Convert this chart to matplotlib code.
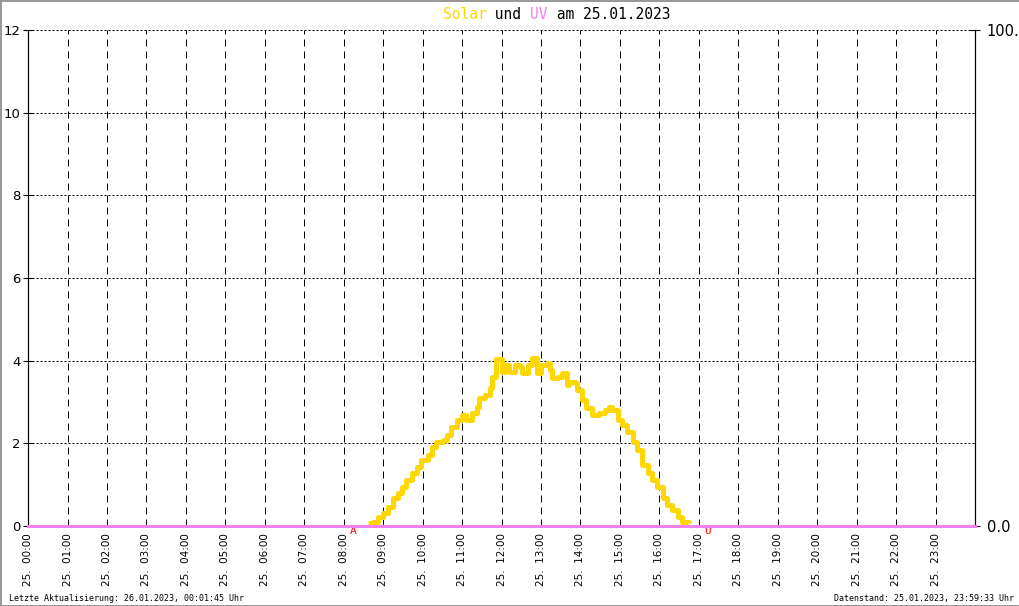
import numpy as np
import matplotlib.pyplot as plt

# solar values (decimal hours, value on the left axis)
solar_hours = [0.0, 8.61, 8.73, 8.86, 8.99, 9.11, 9.24, 9.37, 9.49, 9.59, 9.72,
               9.85, 9.97, 10.13, 10.25, 10.35, 10.51, 10.61, 10.73, 10.86, 10.99,
               11.11, 11.24, 11.37, 11.44, 11.57, 11.70, 11.77, 11.87, 12.00, 12.08,
               12.20, 12.33, 12.46, 12.53, 12.66, 12.78, 12.89, 13.01, 13.14, 13.22,
               13.29, 13.42, 13.52, 13.65, 13.72, 13.85, 13.92, 14.05, 14.15, 14.30,
               14.48, 14.61, 14.73, 14.81, 14.94, 15.06, 15.19, 15.32, 15.44, 15.57,
               15.70, 15.82, 15.95, 16.08, 16.20, 16.33, 16.46, 16.58, 16.76, 24.0]
solar_values = [0.0, 0.07, 0.10, 0.22, 0.31, 0.46, 0.68, 0.80, 0.94, 1.11, 1.28,
                1.43, 1.60, 1.72, 1.91, 2.03, 2.08, 2.20, 2.40, 2.56, 2.69,
                2.56, 2.73, 2.88, 3.10, 3.17, 3.34, 3.61, 4.05, 3.73, 3.90,
                3.73, 3.90, 3.85, 3.70, 3.90, 4.06, 3.70, 3.90, 3.94, 3.77,
                3.58, 3.61, 3.70, 3.41, 3.48, 3.46, 3.29, 3.05, 2.86, 2.69,
                2.73, 2.81, 2.88, 2.81, 2.56, 2.44, 2.27, 2.03, 1.84, 1.48,
                1.28, 1.11, 0.94, 0.68, 0.51, 0.39, 0.22, 0.10, 0.07, 0.0]

uv_hours = [0.0, 24.0]
uv_values = [0.0, 0.0]

hour_labels = ["25.  %02d:00" % h for h in range(24)]
sunrise = 8.23
sunset = 17.22

plt.rcParams['font.family'] = 'DejaVu Sans'

fig = plt.figure(figsize=(10.2, 6.06), dpi=100)
fig.patch.set_edgecolor('#999999')
fig.patch.set_linewidth(2)
ax = fig.add_axes([0.0275, 0.132, 0.9284, 0.8185])
ax2 = ax.twinx()

sh = np.array(solar_hours)
sv = np.array(solar_values)
# thin baseline for solar, thick curve only where the sun shines
ax.plot(sh, sv * 0, color='#FFB800', lw=1.5, clip_on=False, zorder=3)
day = sv > 0
ax.plot(sh[day], sv[day], color='#FFD700', lw=3.6,
        drawstyle='steps-post', solid_capstyle='butt', zorder=4)
ax2.plot(uv_hours, uv_values, color='#EE82EE', lw=2.2, clip_on=False, zorder=5)

ax.set_xlim(0, 24)
ax.set_ylim(0, 12)
ax2.set_ylim(0, 100)

ax.set_xticks(range(24))
ax.set_xticklabels(hour_labels, rotation=90, fontsize=7.5)
ax.tick_params(axis='x', length=0, pad=5)
ax.set_yticks(range(0, 13, 2))
ax.tick_params(axis='y', direction='inout', length=7, width=0.8, labelsize=9.5, pad=2)
ax2.set_yticks([0, 100])
ax2.set_yticklabels(['0.0', '100.0'])
ax2.tick_params(axis='y', direction='inout', length=7, width=0.8, labelsize=10.5, pad=5)

ax.grid(axis='x', color='black', lw=0.72, linestyle=(0, (7, 5)))
ax.grid(axis='y', color='black', lw=0.72, linestyle=(0, (2, 2)))
ax.set_axisbelow(True)
for a in (ax, ax2):
    a.spines['top'].set_visible(False)
    a.spines['bottom'].set_visible(False)
    a.spines['left'].set_linewidth(0.8)
    a.spines['right'].set_linewidth(0.8)

# sunrise / sunset markers
ax.text(sunrise, 0, 'A', color='red', fontsize=8, ha='center', va='top',
        family='DejaVu Sans Mono', clip_on=False)
ax.text(sunset, 0, 'U', color='red', fontsize=8, ha='center', va='top',
        family='DejaVu Sans Mono', clip_on=False)

# coloured title
t = fig.text(0.434, 0.968, 'Solar', color='#FFD700', fontsize=10.5, family='DejaVu Sans Mono')
for part, col in [(' und ', 'black'), ('UV', '#EE82EE'), (' am 25.01.2023', 'black')]:
    t = ax.annotate(part, xy=(1, 0), xycoords=t, va='bottom', color=col,
                    fontsize=10.5, family='DejaVu Sans Mono')

fig.text(0.009, 0.008, 'Letzte Aktualisierung: 26.01.2023, 00:01:45 Uhr',
         fontsize=6, family='DejaVu Sans Mono')
fig.text(0.994, 0.008, 'Datenstand: 25.01.2023, 23:59:33 Uhr',
         fontsize=6, family='DejaVu Sans Mono', ha='right')

fig.savefig('out.png', dpi=100, facecolor='white', edgecolor=fig.get_edgecolor())
